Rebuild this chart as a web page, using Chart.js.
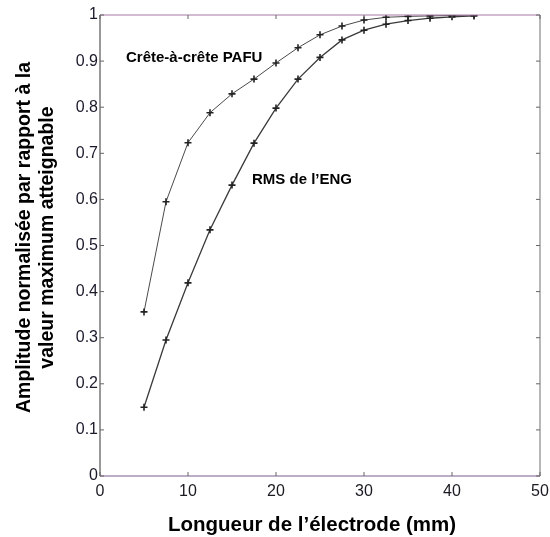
<!DOCTYPE html>
<html><head><meta charset="utf-8">
<script src="https://cdn.jsdelivr.net/npm/chart.js@4"></script>
<style>html,body{margin:0;padding:0;background:#fff}#wrap{width:550px;height:537px}</style>
</head><body><div id="wrap"><canvas id="c" width="550" height="537"></canvas></div>
<script>
const lengths = [5,7.5,10,12.5,15,17.5,20,22.5,25,27.5,30,32.5,35,37.5,40,42.5];
const pafu = [0.356,0.595,0.723,0.788,0.829,0.861,0.896,0.929,0.957,0.976,0.989,0.995,0.997,0.998,0.999,1.0];
const rms  = [0.149,0.295,0.419,0.534,0.631,0.722,0.798,0.861,0.908,0.946,0.967,0.980,0.988,0.993,0.996,0.998];
const xTicks = [0,10,20,30,40,50];
const yTicks = [0,0.1,0.2,0.3,0.4,0.5,0.6,0.7,0.8,0.9,1];
const curveLabels = [
  {text:"Crête-à-crête PAFU", x:2.95, y:0.907},
  {text:"RMS de l\u2019ENG", x:17.27, y:0.642}
];
const xTitle = "Longueur de l\u2019électrode (mm)";
const yTitle = ["Amplitude normalisée par rapport à la", "valeur maximum atteignable"];
const FONT = "'Liberation Sans', Arial, sans-serif";

const mk = (vals)=>lengths.map((x,i)=>({x, y: vals[i]}));

const frame = {
  id:'frame',
  afterDatasetsDraw(chart){
    const {ctx, chartArea:a, scales:{x,y}} = chart;
    ctx.save();
    ctx.lineWidth = 1.2;
    ctx.strokeStyle = '#555';
    ctx.beginPath(); ctx.moveTo(a.left,a.top); ctx.lineTo(a.left,a.bottom); ctx.stroke();
    ctx.strokeStyle = '#888';
    ctx.beginPath(); ctx.moveTo(a.right,a.top); ctx.lineTo(a.right,a.bottom); ctx.stroke();
    ctx.strokeStyle = '#a67aa6';
    ctx.beginPath(); ctx.moveTo(a.left,a.top); ctx.lineTo(a.right,a.top); ctx.stroke();
    ctx.strokeStyle = '#7a5a8a';
    ctx.beginPath(); ctx.moveTo(a.left,a.bottom); ctx.lineTo(a.right,a.bottom); ctx.stroke();
    ctx.strokeStyle = '#666'; ctx.lineWidth = 1;
    xTicks.forEach(v=>{
      const px = x.getPixelForValue(v);
      ctx.beginPath(); ctx.moveTo(px,a.bottom); ctx.lineTo(px,a.bottom-4); ctx.stroke();
      ctx.beginPath(); ctx.moveTo(px,a.top); ctx.lineTo(px,a.top+4); ctx.stroke();
    });
    yTicks.forEach(v=>{
      const py = y.getPixelForValue(v);
      ctx.beginPath(); ctx.moveTo(a.left,py); ctx.lineTo(a.left+4,py); ctx.stroke();
      ctx.beginPath(); ctx.moveTo(a.right,py); ctx.lineTo(a.right-4,py); ctx.stroke();
    });
    ctx.fillStyle = '#000';
    ctx.font = 'bold 15px ' + FONT;
    ctx.textBaseline = 'middle'; ctx.textAlign = 'left';
    curveLabels.forEach(l=>{
      ctx.fillText(l.text, x.getPixelForValue(l.x), y.getPixelForValue(l.y));
    });
    ctx.textAlign = 'center';
    ctx.font = 'bold 20.5px ' + FONT;
    ctx.fillText(xTitle, (a.left+a.right)/2 - 8, 525);
    ctx.save();
    ctx.translate(0, (a.top+a.bottom)/2 - 8);
    ctx.rotate(-Math.PI/2);
    ctx.font = 'bold 19.5px ' + FONT;
    ctx.fillText(yTitle[0], 0, 25);
    ctx.fillText(yTitle[1], 0, 48);
    ctx.restore();
    ctx.restore();
  }
};

new Chart(document.getElementById('c'), {
  type:'line',
  data:{datasets:[
    {label:'PAFU', data:mk(pafu), borderColor:'#4a4a4a', borderWidth:1, pointStyle:'cross', pointRadius:3.5, pointBorderWidth:1.6, pointBorderColor:'#222', tension:0, fill:false},
    {label:'RMS', data:mk(rms), borderColor:'#3a3a3a', borderWidth:1.3, pointStyle:'cross', pointRadius:3.5, pointBorderWidth:1.6, pointBorderColor:'#222', tension:0, fill:false}
  ]},
  options:{
    responsive:false, animation:false,
    layout:{padding:{top:15,right:10,left:0,bottom:0}},
    plugins:{legend:{display:false}, tooltip:{enabled:false}},
    scales:{
      x:{type:'linear', min:0, max:50,
        afterBuildTicks(s){ s.ticks = xTicks.map(v=>({value:v})); },
        afterFit(s){ s.height = 61; s.paddingRight = 0; s.paddingLeft = 0; },
        grid:{display:false, drawTicks:false}, border:{display:false},
        ticks:{color:'#1a1a22', font:{size:16, family:FONT}, padding:6, maxRotation:0, callback:v=>String(v)},
        title:{display:false}
      },
      y:{type:'linear', min:0, max:1,
        afterBuildTicks(s){ s.ticks = yTicks.map(v=>({value:v})); },
        afterFit(s){ s.width = 100; s.paddingTop = 0; s.paddingBottom = 0; },
        grid:{display:false, drawTicks:false}, border:{display:false},
        ticks:{color:'#1a1a2a', font:{size:16, family:FONT}, padding:2, callback:v=>String(v)},
        title:{display:false}
      }
    }
  },
  plugins:[frame]
});
</script></body></html>
